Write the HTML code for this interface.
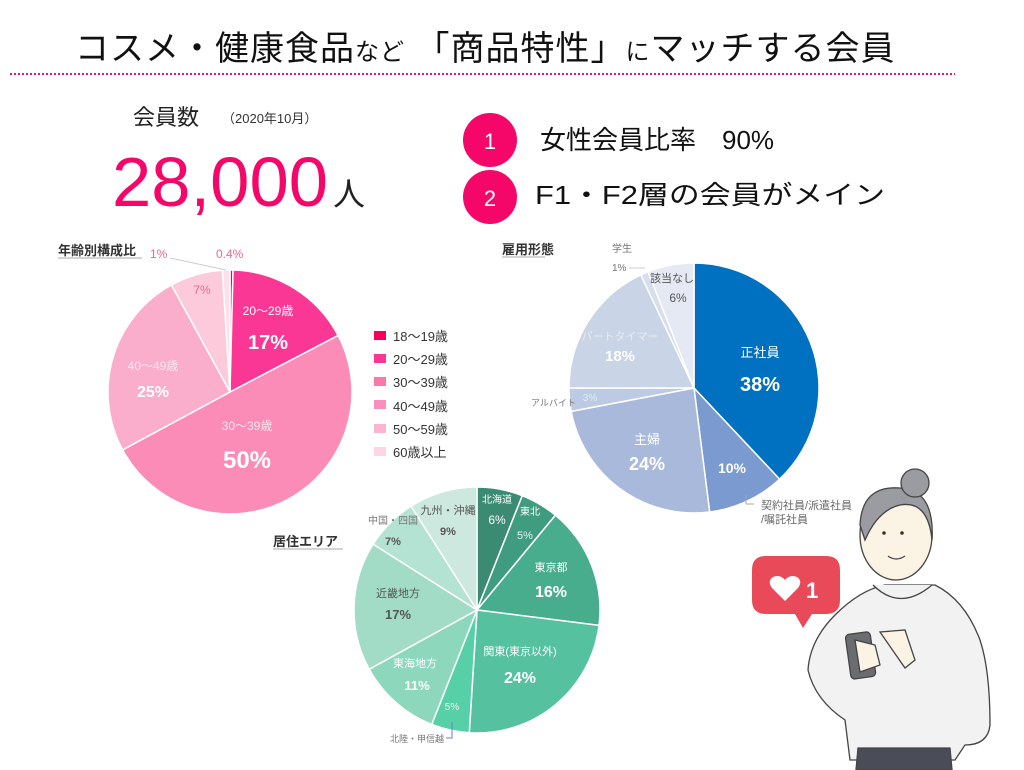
<!DOCTYPE html>
<html><head><meta charset="utf-8">
<style>
html,body{margin:0;padding:0;background:#fff;}
body{width:1024px;height:770px;overflow:hidden;position:relative;font-family:"Liberation Sans","Noto Sans CJK JP",sans-serif;}
svg{position:absolute;left:0;top:0;}
text{font-family:"Liberation Sans","Noto Sans CJK JP",sans-serif;}
</style></head><body>
<svg id="s" width="1024" height="770" viewBox="0 0 1024 770">
<g id="pies"></g>
<text x="75" y="60" font-size="34" fill="#111" letter-spacing="1">コスメ・健康食品<tspan font-size="24">など</tspan> 「商品特性」<tspan font-size="24">に</tspan>マッチする会員</text>
<line x1="10" y1="74" x2="955" y2="74" stroke="#f0156a" stroke-width="2" stroke-dasharray="2,2"/>
<text x="133" y="125" font-size="22" fill="#222">会員数</text>
<text x="222" y="123" font-size="13" fill="#333">（2020年10月）</text>
<text x="112" y="206" font-size="70" fill="#f5076a" textLength="216" lengthAdjust="spacingAndGlyphs">28,000</text>
<text x="333" y="205" font-size="32" fill="#222">人</text>
<circle cx="490" cy="140" r="27" fill="#f5076a"/>
<text x="490" y="149" font-size="22" fill="#fff" text-anchor="middle">1</text>
<circle cx="490" cy="197" r="27" fill="#f5076a"/>
<text x="490" y="206" font-size="22" fill="#fff" text-anchor="middle">2</text>
<text x="540" y="149" font-size="26" fill="#111">女性会員比率　90%</text>
<text x="535" y="204" font-size="26" fill="#111" textLength="350" lengthAdjust="spacingAndGlyphs">F1・F2層の会員がメイン</text>

<text x="58" y="255" font-size="13" font-weight="bold" fill="#333">年齢別構成比</text>
<line x1="58" y1="258" x2="142" y2="258" stroke="#aaa"/>
<text x="150" y="258" font-size="12" fill="#f06a8a">1%</text>
<text x="216" y="258" font-size="12" fill="#f06a8a">0.4%</text>
<line x1="170" y1="258" x2="226" y2="270" stroke="#ccc"/>
<text x="202" y="294" font-size="12" fill="#f06a8a" text-anchor="middle">7%</text>
<text x="268" y="315" font-size="12" fill="#fff" text-anchor="middle">20〜29歳</text>
<text x="268" y="349" font-size="20" font-weight="bold" fill="#fff" text-anchor="middle">17%</text>
<text x="153" y="370" font-size="12" fill="#fde5ee" text-anchor="middle">40〜49歳</text>
<text x="153" y="397" font-size="16" font-weight="bold" fill="#fff" text-anchor="middle">25%</text>
<text x="247" y="430" font-size="12" fill="#fde5ee" text-anchor="middle">30〜39歳</text>
<text x="247" y="468" font-size="24" font-weight="bold" fill="#fff" text-anchor="middle">50%</text>
<g font-size="13" fill="#333">
<rect x="374" y="331" width="12" height="9" fill="#f5005f"/><text x="393" y="341">18〜19歳</text>
<rect x="374" y="354" width="12" height="9" fill="#fa3794"/><text x="393" y="364">20〜29歳</text>
<rect x="374" y="377" width="12" height="9" fill="#fb78ad"/><text x="393" y="387">30〜39歳</text>
<rect x="374" y="400" width="12" height="9" fill="#fb8fbc"/><text x="393" y="411">40〜49歳</text>
<rect x="374" y="424" width="12" height="9" fill="#fcb5d0"/><text x="393" y="434">50〜59歳</text>
<rect x="374" y="447" width="12" height="9" fill="#fdd5e4"/><text x="393" y="457">60歳以上</text>
</g>

<text x="502" y="254" font-size="13" font-weight="bold" fill="#333">雇用形態</text>
<line x1="502" y1="257" x2="545" y2="257" stroke="#aaa"/>
<text x="612" y="252" font-size="10" fill="#777">学生</text>
<text x="612" y="271" font-size="10" fill="#777">1%</text>
<line x1="629" y1="268" x2="645" y2="268" stroke="#ccc"/>
<text x="672" y="282" font-size="11" fill="#555" text-anchor="middle">該当なし</text>
<text x="678" y="302" font-size="12" fill="#555" text-anchor="middle">6%</text>
<text x="620" y="340" font-size="11" fill="#e6ebf3" text-anchor="middle">パートタイマー</text>
<text x="620" y="361" font-size="15" font-weight="bold" fill="#fff" text-anchor="middle">18%</text>
<text x="531" y="406" font-size="9" fill="#777">アルバイト</text>
<text x="590" y="401" font-size="10" fill="#e6ebf3" text-anchor="middle">3%</text>
<text x="760" y="357" font-size="13" fill="#fff" text-anchor="middle">正社員</text>
<text x="760" y="391" font-size="20" font-weight="bold" fill="#fff" text-anchor="middle">38%</text>
<text x="647" y="444" font-size="13" fill="#fff" text-anchor="middle">主婦</text>
<text x="647" y="470" font-size="18" font-weight="bold" fill="#fff" text-anchor="middle">24%</text>
<text x="732" y="473" font-size="14" font-weight="bold" fill="#fff" text-anchor="middle">10%</text>
<polyline points="746,495 746,504 754,504" fill="none" stroke="#aaa"/>
<text x="761" y="509" font-size="11" fill="#666">契約社員/派遣社員</text>
<text x="761" y="523" font-size="11" fill="#666">/嘱託社員</text>

<text x="273" y="546" font-size="13" font-weight="bold" fill="#333">居住エリア</text>
<line x1="273" y1="549" x2="343" y2="549" stroke="#aaa"/>
<text x="497" y="503" font-size="10" fill="#fff" text-anchor="middle">北海道</text>
<text x="497" y="524" font-size="12" fill="#fff" text-anchor="middle">6%</text>
<text x="530" y="515" font-size="10" fill="#fff" text-anchor="middle">東北</text>
<text x="525" y="539" font-size="11" fill="#e8f5ef" text-anchor="middle">5%</text>
<text x="551" y="571" font-size="11" fill="#fff" text-anchor="middle">東京都</text>
<text x="551" y="597" font-size="16" font-weight="bold" fill="#fff" text-anchor="middle">16%</text>
<text x="520" y="655" font-size="11" fill="#fff" text-anchor="middle">関東(東京以外)</text>
<text x="520" y="683" font-size="16" font-weight="bold" fill="#fff" text-anchor="middle">24%</text>
<text x="452" y="710" font-size="10" fill="#e8f5ef" text-anchor="middle">5%</text>
<text x="415" y="667" font-size="11" fill="#fff" text-anchor="middle">東海地方</text>
<text x="417" y="690" font-size="13" font-weight="bold" fill="#fff" text-anchor="middle">11%</text>
<text x="398" y="597" font-size="11" fill="#555" text-anchor="middle">近畿地方</text>
<text x="398" y="619" font-size="13" font-weight="bold" fill="#555" text-anchor="middle">17%</text>
<text x="393" y="524" font-size="10" fill="#777" text-anchor="middle">中国・四国</text>
<text x="393" y="545" font-size="11" font-weight="bold" fill="#555" text-anchor="middle">7%</text>
<text x="448" y="514" font-size="11" fill="#555" text-anchor="middle">九州・沖縄</text>
<text x="448" y="535" font-size="11" font-weight="bold" fill="#555" text-anchor="middle">9%</text>
<text x="390" y="742" font-size="9" fill="#777">北陸・甲信越</text>
<polyline points="452,722 452,738 446,738" fill="none" stroke="#6c7fc0"/>

<g stroke="#444" stroke-width="1.3">
<path d="M850,760 L845,720 Q815,700 808,670 Q810,640 835,615 Q860,590 885,585 L935,585 Q965,600 980,640 Q990,670 990,725 Q988,745 965,745 L955,760 Z" fill="#f2f2f2"/>
<path d="M858,748 L950,748 L952,770 L856,770 Z" fill="#4a4d57"/>
<path d="M873,585 Q900,612 932,585" fill="#f2f2f2"/>
<ellipse cx="896" cy="535" rx="36" ry="45" fill="#fbf3e4"/>
<path d="M860,525 Q862,485 900,488 Q935,490 932,540 Q928,500 900,505 Q878,510 865,540 Z" fill="#9a9ca1"/>
<circle cx="915" cy="483" r="14" fill="#9a9ca1"/>
<rect x="848" y="633" width="25" height="45" rx="4" fill="#6a6c70" transform="rotate(-8 860 655)"/>
<path d="M855,640 L875,645 L880,665 L860,672 Z" fill="#fbf3e4"/>
<path d="M880,632 L905,630 L915,660 L905,668 Z" fill="#fbf3e4"/>
</g>
<circle cx="884" cy="533" r="1.8" fill="#333"/><circle cx="902" cy="533" r="1.8" fill="#333"/>
<path d="M888,556 Q896,562 905,556" fill="none" stroke="#444" stroke-width="1.2"/>
<path d="M752,570 Q752,556 766,556 L826,556 Q840,556 840,570 L840,600 Q840,614 826,614 L812,614 L803,628 L795,614 L766,614 Q752,614 752,600 Z" fill="#e84a5a"/>
<path d="M785,601 L772,588 Q767,581 773,577 Q780,574 785,580 Q790,574 797,577 Q803,581 798,588 Z" fill="#fff"/>
<text x="806" y="598" font-size="22" font-weight="bold" fill="#fff">1</text>
</svg>
<script>
function pie(cx,cy,r,vals,cols){
  var tot=vals.reduce(function(a,b){return a+b},0),a=-Math.PI/2,g=document.getElementById('pies'),out='';
  for(var i=0;i<vals.length;i++){
    var b=a+vals[i]/tot*2*Math.PI;
    var x1=cx+r*Math.cos(a),y1=cy+r*Math.sin(a),x2=cx+r*Math.cos(b),y2=cy+r*Math.sin(b);
    var large=(b-a)>Math.PI?1:0;
    out+='<path d="M'+cx+','+cy+' L'+x1+','+y1+' A'+r+','+r+' 0 '+large+' 1 '+x2+','+y2+' Z" fill="'+cols[i]+'" stroke="#fff" stroke-width="1.5"/>';
    a=b;
  }
  g.innerHTML+=out;
}
pie(230,392,122,[0.4,17,50,25,7,1],['#f5005f','#fa3794','#fb8cb8','#fbaecb','#fccadb','#fde0ea']);
pie(694,388,125,[38,10,24,3,18,1,6],['#0070c0','#7b9bd0','#a9b9dc','#bccae3','#c9d4e6','#d7deed','#e4e9f3']);
pie(477,610,123,[6,5,16,24,5,11,17,7,9],['#3b8b72','#3f9c7f','#47ad8d','#55c19e','#57cfa7','#8dd7bd','#a2dcc6','#b5e3d3','#cde9df']);
</script>
</body></html>
